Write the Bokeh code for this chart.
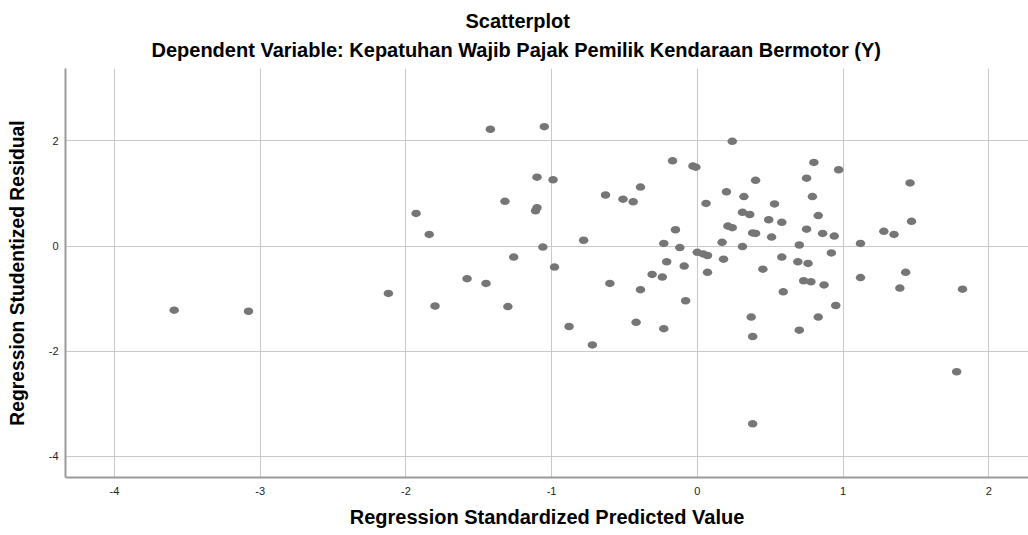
from bokeh.plotting import figure
from bokeh.models import Range1d, FixedTicker, Title
from bokeh.embed import file_html
from bokeh.resources import INLINE

title_main = "Scatterplot"
title_sub = "Dependent Variable: Kepatuhan Wajib Pajak Pemilik Kendaraan Bermotor (Y)"
x_label = "Regression Standardized Predicted Value"
y_label = "Regression Studentized Residual"
x_ticks = [-4, -3, -2, -1, 0, 1, 2]
y_ticks = [-4, -2, 0, 2]

pred = [-3.59, -3.08, -2.12, -1.93, -1.84, -1.80, -1.58, -1.45, -1.42, -1.32,
        -1.30, -1.26, -1.10, -1.10, -1.11, -1.06, -1.05, -0.99, -0.98, -0.88,
        -0.78, -0.72, -0.63, -0.60, -0.51, -0.44, -0.42, -0.39, -0.39, -0.31,
        -0.24, -0.23, -0.23, -0.21, -0.17, -0.15, -0.12, -0.09, -0.08, -0.03,
        -0.01, 0.00, 0.04, 0.07, 0.06, 0.07, 0.17, 0.18, 0.20, 0.21,
        0.24, 0.24, 0.31, 0.31, 0.36, 0.32, 0.37, 0.38, 0.40, 0.38,
        0.38, 0.40, 0.45, 0.49, 0.51, 0.53, 0.58, 0.58, 0.59, 0.69,
        0.70, 0.70, 0.73, 0.78, 0.75, 0.75, 0.76, 0.79, 0.80, 0.83,
        0.83, 0.86, 0.87, 0.92, 0.94, 0.95, 0.97, 1.12, 1.12, 1.28,
        1.35, 1.39, 1.43, 1.46, 1.47, 1.82, 1.78]
resid = [-1.22, -1.24, -0.90, 0.62, 0.22, -1.14, -0.62, -0.71, 2.22, 0.85,
         -1.15, -0.21, 1.31, 0.73, 0.67, -0.02, 2.27, 1.26, -0.40, -1.53,
         0.11, -1.88, 0.97, -0.71, 0.89, 0.84, -1.45, -0.83, 1.12, -0.54,
         -0.59, 0.05, -1.57, -0.30, 1.62, 0.31, -0.03, -0.38, -1.04, 1.52,
         1.50, -0.12, -0.15, -0.18, 0.81, -0.50, 0.07, -0.25, 1.03, 0.38,
         0.35, 1.99, -0.01, 0.64, 0.60, 0.94, -1.35, 0.25, 0.24, -1.72,
         -3.38, 1.25, -0.44, 0.50, 0.17, 0.80, 0.45, -0.21, -0.87, -0.30,
         -1.60, 0.02, -0.66, -0.68, 1.29, 0.32, -0.33, 0.94, 1.59, -1.35,
         0.58, 0.24, -0.74, -0.13, 0.19, -1.13, 1.45, 0.05, -0.60, 0.28,
         0.22, -0.80, -0.50, 1.20, 0.47, -0.82, -2.39]

FONT = "Liberation Sans"

p = figure(width=1028, height=535,
           x_range=Range1d(-4.336, 2.273), y_range=Range1d(-4.40, 3.375),
           output_backend="svg", toolbar_location=None, title=None,
           min_border_left=65, min_border_right=0, min_border_top=68,
           min_border_bottom=58)
p.outline_line_color = None
p.background_fill_color = "white"
p.border_fill_color = "white"

p.xaxis.ticker = FixedTicker(ticks=x_ticks)
p.yaxis.ticker = FixedTicker(ticks=y_ticks)
p.xaxis.major_label_overrides = {t: str(t) for t in x_ticks}
p.yaxis.major_label_overrides = {t: str(t) for t in y_ticks}
p.xgrid.ticker = FixedTicker(ticks=x_ticks)
p.ygrid.ticker = FixedTicker(ticks=y_ticks)
for g in (p.xgrid, p.ygrid):
    g.grid_line_color = "#c8c8c8"
    g.grid_line_width = 1

for ax in (p.xaxis, p.yaxis):
    ax.axis_line_color = "#9a9a9a"
    ax.axis_line_width = 2
    ax.major_tick_line_color = None
    ax.minor_tick_line_color = None
    ax.major_tick_out = 0
    ax.major_tick_in = 0
    ax.major_label_text_font = FONT
    ax.major_label_text_font_size = "11px"
    ax.major_label_text_color = "#222222"
    ax.axis_label_text_font = FONT
    ax.axis_label_text_font_style = "bold"
    ax.axis_label_text_color = "#000000"

p.xaxis.axis_label_text_font_size = "20px"
p.yaxis.axis_label_text_font_size = "19.3px"
p.xaxis.major_label_standoff = 9
p.yaxis.major_label_standoff = 7
p.xaxis.axis_label = x_label
p.xaxis.axis_label_standoff = 8
p.yaxis.axis_label = y_label
p.yaxis.axis_label_standoff = 18

p.ellipse(x=pred, y=resid, width=9.5, height=7.5,
          width_units="screen", height_units="screen",
          fill_color="#767676", line_color=None)

sub = Title(text=title_sub, align="left", offset=86, vertical_align="top",
            standoff=12, text_font=FONT, text_font_size="20px",
            text_font_style="bold", text_color="#000000")
main = Title(text=title_main, align="left", offset=400, vertical_align="bottom",
             standoff=1, text_font=FONT, text_font_size="20px",
             text_font_style="bold", text_color="#000000")
p.add_layout(sub, "above")
p.add_layout(main, "above")

open("out.html", "w").write(file_html(p, INLINE))
